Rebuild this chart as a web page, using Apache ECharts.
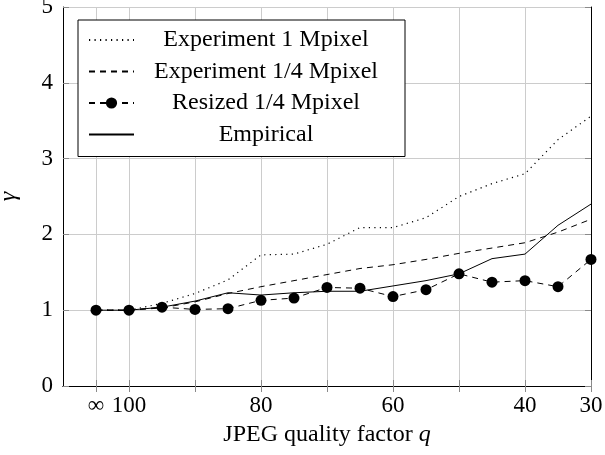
<!DOCTYPE html>
<html><head><meta charset="utf-8">
<script src="https://cdn.jsdelivr.net/npm/echarts@6/dist/echarts.min.js"></script>
<style>html,body{margin:0;padding:0;background:#fff}#c{width:605px;height:455px}</style>
</head><body><div id="c"></div>
<script>
// JPEG quality factor q (105 stands for "∞", i.e. uncompressed)
const qValues = [105,100,95,90,85,80,75,70,65,60,55,50,45,40,35,30];
const exp1M = [1.00,1.00,1.09,1.22,1.40,1.73,1.74,1.87,2.09,2.09,2.22,2.50,2.67,2.80,3.25,3.56];
const exp14M = [1.00,1.00,1.03,1.11,1.22,1.31,1.39,1.47,1.55,1.60,1.67,1.75,1.82,1.89,2.03,2.20];
const resized14M = [1.00,1.00,1.04,1.01,1.02,1.13,1.16,1.30,1.29,1.18,1.27,1.48,1.37,1.39,1.31,1.67];
const empirical = [1.00,1.00,1.04,1.12,1.23,1.20,1.23,1.25,1.25,1.32,1.39,1.48,1.68,1.74,2.12,2.40];
const seriesNames = ['Experiment 1 Mpixel','Experiment 1/4 Mpixel','Resized 1/4 Mpixel','Empirical'];
const gridTicks = [105,100,90,80,70,60,50,40,30];
const labelTicks = [105,100,80,60,40,30];

const FONT = 'Liberation Serif';
const pairs = arr => qValues.map((q, i) => [q, arr[i]]);
const tickStyle = {show: true, inside: true, length: 6, lineStyle: {color: '#8a8a8a', width: 1}};
const axisLine = {show: true, lineStyle: {color: '#000', width: 1}};
const hiddenDot = {color: 'rgba(0,0,0,0)', borderWidth: 0};

const chart = echarts.init(document.getElementById('c'), null, {renderer: 'canvas'});
chart.setOption({
  animation: false,
  backgroundColor: '#fff',
  grid: {left: 63, right: 14, top: 7, bottom: 69, containLabel: false, outerBoundsMode: 'none'},
  xAxis: [{
    type: 'value', min: 30, max: 110, inverse: true, position: 'bottom',
    axisLine: axisLine,
    axisTick: Object.assign({customValues: gridTicks}, tickStyle),
    splitLine: {show: true, lineStyle: {color: '#cccccc', width: 1}},
    axisLabel: {
      customValues: labelTicks, margin: 8,
      fontFamily: FONT, fontSize: 23, color: '#000',
      formatter: v => v === 105 ? '∞' : String(v)
    },
    name: '{n|JPEG quality factor }{i|q}', nameLocation: 'middle', nameGap: 37,
    nameTextStyle: {rich: {
      n: {fontFamily: FONT, fontSize: 24, color: '#000'},
      i: {fontFamily: FONT, fontSize: 24, fontStyle: 'italic', color: '#000'}
    }}
  }, {
    type: 'value', min: 30, max: 110, inverse: true, position: 'top',
    axisLine: axisLine,
    axisTick: Object.assign({customValues: gridTicks}, tickStyle),
    splitLine: {show: false}, axisLabel: {show: false}
  }],
  yAxis: [{
    type: 'value', min: 0, max: 5, interval: 1, position: 'left',
    axisLine: axisLine, axisTick: tickStyle,
    splitLine: {show: true, lineStyle: {color: '#cccccc', width: 1}},
    axisLabel: {margin: 10, fontFamily: FONT, fontSize: 23, color: '#000'},
    name: 'γ', nameLocation: 'middle', nameGap: 42, nameRotate: 90,
    nameTextStyle: {fontFamily: FONT, fontSize: 24, fontStyle: 'italic', color: '#000'}
  }, {
    type: 'value', min: 0, max: 5, interval: 1, position: 'right',
    axisLine: axisLine, axisTick: tickStyle,
    splitLine: {show: false}, axisLabel: {show: false}
  }],
  legend: {
    data: [
      {name: seriesNames[0], itemStyle: hiddenDot},
      {name: seriesNames[1], itemStyle: hiddenDot},
      {name: seriesNames[2]},
      {name: seriesNames[3], itemStyle: hiddenDot}
    ],
    orient: 'vertical', left: 78, top: 20,
    padding: [8, 12, 10, 10],
    itemWidth: 45, itemHeight: 14, itemGap: 7.5,
    backgroundColor: '#fff', borderColor: '#000', borderWidth: 1, borderRadius: 0,
    formatter: name => '{t|' + name + '}',
    textStyle: {rich: {t: {width: 254, align: 'center', fontFamily: FONT, fontSize: 24, lineHeight: 24, color: '#000'}}}
  },
  series: [{
    name: seriesNames[0], type: 'line', data: pairs(exp1M),
    showSymbol: false, symbol: 'none', color: '#000',
    lineStyle: {color: '#000', width: 1.2, type: [1.2, 4.3]}
  }, {
    name: seriesNames[1], type: 'line', data: pairs(exp14M),
    showSymbol: false, symbol: 'none', color: '#000',
    lineStyle: {color: '#000', width: 1, type: [6, 5]}
  }, {
    name: seriesNames[2], type: 'line', data: pairs(resized14M),
    symbol: 'circle', symbolSize: 11, color: '#000',
    itemStyle: {color: '#000'},
    lineStyle: {color: '#000', width: 1, type: [6, 5]}
  }, {
    name: seriesNames[3], type: 'line', data: pairs(empirical),
    showSymbol: false, symbol: 'none', color: '#000',
    lineStyle: {color: '#000', width: 1, type: 'solid'}
  }]
});
</script></body></html>
